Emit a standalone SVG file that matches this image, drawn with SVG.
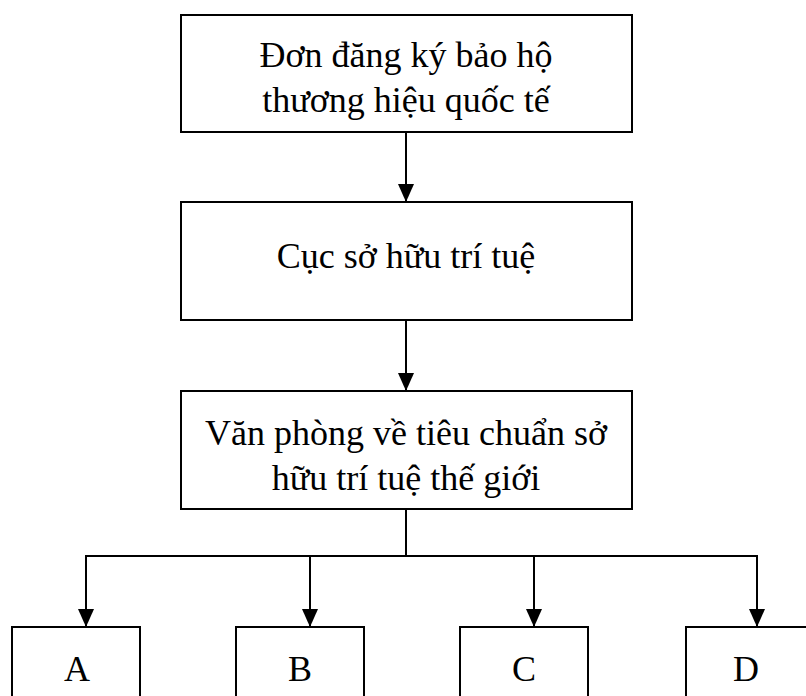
<svg xmlns="http://www.w3.org/2000/svg" width="806" height="696" viewBox="0 0 806 696">
<style>
.box{fill:#fff;stroke:#000;stroke-width:2}
.t{font-family:"Liberation Serif","Times New Roman",serif;font-size:36px;fill:#000;text-anchor:middle}
.c{stroke:#000;stroke-width:2;fill:none}
</style>
<defs>
<marker id="ah" markerWidth="18" markerHeight="16" refX="18" refY="8" orient="auto" markerUnits="userSpaceOnUse" viewBox="0 0 18 16">
<path d="M0,0 L18,8 L0,16 Z" fill="#000"/>
</marker>
</defs>
<rect width="806" height="696" fill="#fff"/>
<g id="connectors">
<line class="c" x1="406" y1="132" x2="406" y2="202" marker-end="url(#ah)"/>
<line class="c" x1="406" y1="320" x2="406" y2="391" marker-end="url(#ah)"/>
<line class="c" x1="406" y1="509" x2="406" y2="556"/>
<line class="c" x1="85" y1="556" x2="758" y2="556"/>
<line class="c" x1="86" y1="556" x2="86" y2="627" marker-end="url(#ah)"/>
<line class="c" x1="310" y1="556" x2="310" y2="627" marker-end="url(#ah)"/>
<line class="c" x1="534" y1="556" x2="534" y2="627" marker-end="url(#ah)"/>
<line class="c" x1="757" y1="556" x2="757" y2="627" marker-end="url(#ah)"/>
</g>
<g id="node1">
<rect class="box" x="181" y="15" width="451" height="117"/>
<text class="t" x="406" y="67">Đơn đăng ký bảo hộ</text>
<text class="t" x="406" y="112">thương hiệu quốc tế</text>
</g>
<g id="node2">
<rect class="box" x="181" y="202" width="451" height="118"/>
<text class="t" x="406" y="268">Cục sở hữu trí tuệ</text>
</g>
<g id="node3">
<rect class="box" x="181" y="391" width="451" height="118"/>
<text class="t" x="406" y="445">Văn phòng về tiêu chuẩn sở</text>
<text class="t" x="406" y="490">hữu trí tuệ thế giới</text>
</g>
<g id="nodeA">
<rect class="box" x="12" y="627" width="128" height="80"/>
<text class="t" x="77" y="681">A</text>
</g>
<g id="nodeB">
<rect class="box" x="236" y="627" width="128" height="80"/>
<text class="t" x="300" y="681">B</text>
</g>
<g id="nodeC">
<rect class="box" x="460" y="627" width="128" height="80"/>
<text class="t" x="524" y="681">C</text>
</g>
<g id="nodeD">
<rect class="box" x="686" y="627" width="128" height="80"/>
<text class="t" x="746" y="681">D</text>
</g>
</svg>
